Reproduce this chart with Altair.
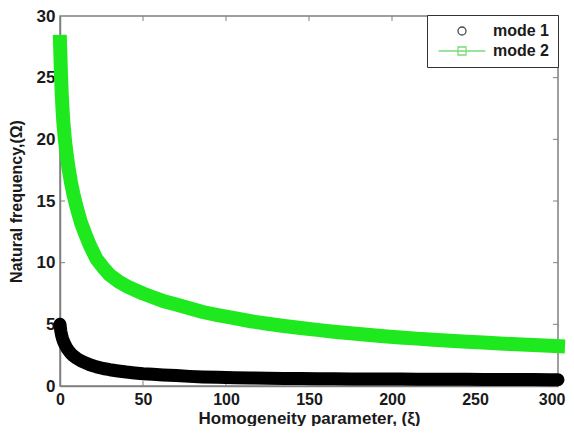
import altair as alt
import pandas as pd

# ---- data ----
xi = [0, 0.25, 0.5, 1, 1.5, 2, 3, 4, 5, 6.5, 8, 10, 12.5, 15, 18, 22, 26, 30, 35, 40,
      45, 50, 56, 62, 70, 78, 86, 95, 105, 115, 125, 135, 145, 155, 165, 175, 185,
      195, 205, 215, 225, 235, 245, 255, 265, 275, 285, 295, 300]
mode1 = [5.0, 4.7, 4.45, 4.1, 3.85, 3.65, 3.35, 3.1, 2.9, 2.65, 2.45, 2.25, 2.05, 1.9,
         1.72, 1.55, 1.42, 1.32, 1.22, 1.13, 1.06, 1.0, 0.95, 0.9, 0.85, 0.78, 0.73,
         0.7, 0.67, 0.65, 0.63, 0.61, 0.6, 0.59, 0.58, 0.575, 0.57, 0.565, 0.56, 0.555,
         0.55, 0.545, 0.54, 0.535, 0.53, 0.525, 0.52, 0.515, 0.51]
mode2 = [27.9, 26.8, 25.6, 23.8, 22.5, 21.4, 19.9, 18.8, 17.8, 16.6, 15.6, 14.5, 13.3,
         12.4, 11.4, 10.3, 9.6, 9.0, 8.5, 8.1, 7.8, 7.5, 7.2, 6.9, 6.6, 6.3, 6.0, 5.75,
         5.5, 5.25, 5.05, 4.87, 4.7, 4.55, 4.4, 4.27, 4.15, 4.03, 3.93, 3.84, 3.75,
         3.67, 3.59, 3.52, 3.45, 3.38, 3.32, 3.26, 3.23]
series = ["mode 1", "mode 2"]
colors = ["#000000", "#1ee81e"]
legend_colors = ["#000000", "#44cc44"]
x_ticks = [0, 50, 100, 150, 200, 250, 300]
y_ticks = [0, 5, 10, 15, 20, 25, 30]

df = pd.DataFrame({
    "xi": xi + xi,
    "freq": mode1 + mode2,
    "series": [series[0]] * len(xi) + [series[1]] * len(xi),
})
xt_df = pd.DataFrame({"v": x_ticks[1:-1]})
yt_df = pd.DataFrame({"v": y_ticks[1:-1]})
legend_df = pd.DataFrame({"series": series})

W, H = 498, 370
FONT = "Liberation Sans"
AX = "#808080"
TXT = "#1a1a1a"

xscale = alt.Scale(domain=[0, 300], nice=False, zero=False)
yscale = alt.Scale(domain=[0, 30], nice=False, zero=False)

last_x = "datum.value == %d" % x_ticks[-1]
x_axis = alt.Axis(values=x_ticks, ticks=False, tickSize=0, labelPadding=5, labelFlush=False,
                  labelAlign={"condition": {"test": last_x, "value": "right"}, "value": "center"},
                  labelOffset={"condition": {"test": last_x, "value": 7}, "value": 0},
                  labelFont=FONT, labelFontSize=16, labelFontWeight="bold", labelColor=TXT,
                  domainColor=AX, domainWidth=1.5, grid=False,
                  title="Homogeneity parameter, (ξ)", titleFont=FONT, titleFontSize=17,
                  titleFontWeight="bold", titleColor=TXT, titlePadding=3)
y_axis = alt.Axis(values=y_ticks, ticks=False, tickSize=0, labelPadding=5, labelFlush=False,
                  labelFont=FONT, labelFontSize=17, labelFontWeight="bold", labelColor=TXT,
                  domainColor=AX, domainWidth=1.5, grid=False,
                  title="Natural frequency,(Ω)", titleFont=FONT, titleFontSize=16,
                  titleFontWeight="bold", titleColor=TXT, titlePadding=12)

X = alt.X("xi:Q", scale=xscale, axis=x_axis)
Y = alt.Y("freq:Q", scale=yscale, axis=y_axis)

base = alt.Chart(df)
black = base.transform_filter(alt.datum.series == series[0]).mark_line(
    color=colors[0], strokeWidth=13, strokeCap="round", strokeJoin="round"
).encode(x=X, y=Y)
green = base.transform_filter(alt.datum.series == series[1]).mark_line(
    color=colors[1], strokeWidth=14, strokeCap="square", strokeJoin="round"
).encode(x=X, y=Y)

# inward ticks on all four sides
XT = alt.X("v:Q", scale=xscale, axis=x_axis)
YT = alt.Y("v:Q", scale=yscale, axis=y_axis)
tick_bottom = alt.Chart(xt_df).mark_rule(color=AX, strokeWidth=1).encode(
    x=XT, y=alt.value(H), y2=alt.value(H - 5))
tick_top = alt.Chart(xt_df).mark_rule(color=AX, strokeWidth=1).encode(
    x=XT, y=alt.value(0), y2=alt.value(5))
tick_left = alt.Chart(yt_df).mark_rule(color=AX, strokeWidth=1).encode(
    y=YT, x=alt.value(0), x2=alt.value(5))
tick_right = alt.Chart(yt_df).mark_rule(color=AX, strokeWidth=1).encode(
    y=YT, x=alt.value(W), x2=alt.value(W - 5))

circle_path = "M0.8,0A0.8,0.8,0,1,1,-0.8,0A0.8,0.8,0,1,1,0.8,0Z"
square_line_path = "M-4.7,0H4.7M-0.8,-0.8H0.8V0.8H-0.8Z"

leg = alt.Legend(orient="none", legendX=367, legendY=-1, title=None,
                 strokeColor="#333333", fillColor="white", padding=8,
                 symbolSize=100, symbolStrokeWidth=1.3, symbolOffset=19,
                 labelOffset=23, rowPadding=4,
                 labelFont=FONT, labelFontSize=16, labelFontWeight="bold",
                 labelColor=TXT, labelExpr="datum.label + ' '")

legend_layer = alt.Chart(legend_df).transform_filter("false").mark_point(
    filled=False, strokeWidth=1.3
).encode(
    color=alt.Color("series:N", scale=alt.Scale(domain=series, range=legend_colors), legend=leg),
    shape=alt.Shape("series:N", scale=alt.Scale(domain=series, range=[circle_path, square_line_path]), legend=leg),
)

chart = alt.layer(
    tick_bottom, tick_top, tick_left, tick_right, green, black, legend_layer
).properties(
    width=W, height=H,
    autosize=alt.AutoSizeParams(type="none"),
    padding={"left": 52, "top": 8, "right": 8, "bottom": 40},
    background="white",
).configure_view(stroke=AX, strokeWidth=1.5)

chart.save("out.html", embed_options={"renderer": "svg", "actions": False})
